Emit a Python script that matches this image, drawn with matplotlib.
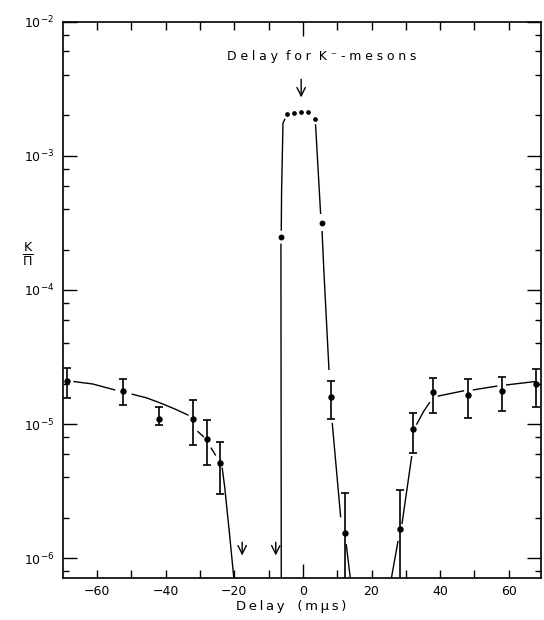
import numpy as np
import matplotlib
matplotlib.use("Agg")
import matplotlib.pyplot as plt
from matplotlib.ticker import FixedLocator, FixedFormatter, LogLocator, NullFormatter

nan = np.nan

# measured points with error bars (value, upper end, lower end)
delay = [-68.8, -52.3, -41.9, -32.1, -28.0, -24.3,
         8.1, 12.2, 28.4, 32.2, 38.0, 48.2, 57.9, 68.0]
ratio = [2.11e-5, 1.77e-5, 1.09e-5, 1.09e-5, 7.7e-6, 5.1e-6,
         1.58e-5, 1.53e-6, 1.65e-6, 9.2e-6, 1.73e-5, 1.64e-5, 1.76e-5, 1.99e-5]
ratio_hi = [2.64e-5, 2.17e-5, 1.34e-5, 1.51e-5, 1.08e-5, 7.4e-6,
            2.1e-5, 3.05e-6, 3.23e-6, 1.22e-5, 2.22e-5, 2.16e-5, 2.26e-5, 2.58e-5]
ratio_lo = [1.56e-5, 1.39e-5, 9.8e-6, 7.0e-6, 4.95e-6, 3.0e-6,
            1.09e-5, 5e-7, 5e-7, 6.07e-6, 1.2e-5, 1.12e-5, 1.26e-5, 1.33e-5]

# central peak points (no error bars)
peak_x = [-6.5, 5.5]
peak_y = [2.49e-4, 3.14e-4]
top_x = [-4.66, -2.71, -0.67, 1.57, 3.5]
top_y = [2.05e-3, 2.10e-3, 2.13e-3, 2.11e-3, 1.87e-3]

# hand drawn curves (nan = break in the line)
fit_x = [-66.7, -61.2, -54.9, nan,
         -49.7, -45.5, -41.8, -37.5, -33.5, nan,
         -30.6, -29.0, nan,
         -26.7, -25.5, nan,
         -23.5, -22.8, -21.9, -21.4, -20.1, nan,
         -6.3, -6.4, nan,
         -6.3, -6.2, -5.8, -5.3, nan,
         3.7, 5.16, nan,
         5.6, 6.1, 7.6, nan,
         8.57, 11.0, nan,
         12.65, 13.85, nan,
         25.75, 27.7, nan,
         28.9, 31.7, nan,
         33.2, 35.2, 36.9, nan,
         39.5, 46.8, nan,
         49.7, 56.5, nan,
         59.4, 67.6]
fit_y = [2.075e-5, 1.99e-5, 1.80e-5, nan,
         1.67e-5, 1.567e-5, 1.445e-5, 1.303e-5, 1.169e-5, nan,
         8.79e-6, 8.07e-6, nan,
         6.61e-6, 5.89e-6, nan,
         4.69e-6, 3.42e-6, 2.04e-6, 1.53e-6, 7.0e-7, nan,
         7.0e-7, 2.19e-4, nan,
         2.80e-4, 5.55e-4, 1.75e-3, 1.87e-3, nan,
         1.70e-3, 3.73e-4, nan,
         2.72e-4, 1.41e-4, 2.56e-5, nan,
         1.01e-5, 2.04e-6, nan,
         1.26e-6, 7.0e-7, nan,
         7.0e-7, 1.33e-6, nan,
         1.82e-6, 5.71e-6, nan,
         1.00e-5, 1.245e-5, 1.445e-5, nan,
         1.62e-5, 1.77e-5, nan,
         1.80e-5, 1.92e-5, nan,
         1.96e-5, 2.075e-5]

arrow_x = [-17.7, -7.9]
xticks = [-60, -50, -40, -30, -20, -10, 10, 20, 30, 40, 50, 60]
xlabels = ["\u221260", "", "\u221240", "", "\u221220", "", "", "20", "", "40", "", "60"]
ydecades = [1e-6, 1e-5, 1e-4, 1e-3, 1e-2]
ylabels = [r"$10^{-6}$", r"$10^{-5}$", r"$10^{-4}$", r"$10^{-3}$", r"$10^{-2}$"]


def spaced(text, gap="\u2009\u200a", sep="  "):
    return sep.join(gap.join(w) for w in text.split(" "))


plt.rcParams["font.family"] = ["DejaVu Sans"]
fig = plt.figure(figsize=(5.44, 6.2), dpi=100)
ax = fig.add_axes([62.7 / 544, 1 - 577.7 / 620, (541 - 62.7) / 544, (577.7 - 21.7) / 620])
ax.set_yscale("log")
ax.set_xlim(-70, 69.4)
ax.set_ylim(7.16e-7, 1e-2)

ax.plot(fit_x, fit_y, color="black", lw=1.0)

yerr = [np.array(ratio) - np.array(ratio_lo), np.array(ratio_hi) - np.array(ratio)]
ax.errorbar(delay, ratio, yerr=yerr, fmt="o", color="black", ms=3.6,
            elinewidth=1.2, capsize=2.8, capthick=1.2)
ax.plot(peak_x, peak_y, "o", color="black", ms=3.2)
ax.plot(top_x, top_y, "o", color="black", ms=2.4)

# arrows
arrow = dict(arrowstyle="->", color="black", lw=1.0, mutation_scale=15)
ax.annotate("", xy=(-0.5, 2.6e-3), xytext=(-0.5, 3.9e-3), arrowprops=arrow)
for ax_x in arrow_x:
    ax.annotate("", xy=(ax_x, 1.0e-6), xytext=(ax_x, 1.38e-6), arrowprops=arrow)

ax.text(-22.1, 5.5e-3, spaced("Delay for K\u207b-mesons"), ha="left", va="center",
        fontsize=9)

# ticks
ax.xaxis.set_major_locator(FixedLocator([0]))
ax.xaxis.set_major_formatter(FixedFormatter(["0"]))
ax.xaxis.set_minor_locator(FixedLocator(xticks))
ax.xaxis.set_minor_formatter(FixedFormatter(xlabels))
ax.tick_params(axis="x", which="both", direction="in", top=True, labelsize=9,
               pad=5, width=1.0)
ax.tick_params(axis="x", which="major", length=10)
ax.tick_params(axis="x", which="minor", length=6)

ax.yaxis.set_major_locator(FixedLocator(ydecades))
ax.yaxis.set_major_formatter(FixedFormatter(ylabels))
ax.yaxis.set_minor_locator(LogLocator(base=10, subs=(2, 4, 6, 8)))
ax.yaxis.set_minor_formatter(NullFormatter())
ax.tick_params(axis="y", which="both", direction="in", right=True, labelsize=9,
               pad=6, width=1.0)
ax.tick_params(axis="y", which="major", length=10)
ax.tick_params(axis="y", which="minor", length=4.5)

for s in ax.spines.values():
    s.set_linewidth(1.2)

ax.set_xlabel(spaced("Delay (m\u03bcs)", "\u2009", "   "), fontsize=9.5)
ax.xaxis.set_label_coords(0.477, -0.04)
ax.set_ylabel(r"$\frac{\mathrm{K}}{\Pi}$", rotation=0, fontsize=13, ha="center", va="center")
ax.yaxis.set_label_coords(-0.0725, 0.582)

fig.savefig("out.png", dpi=100)
